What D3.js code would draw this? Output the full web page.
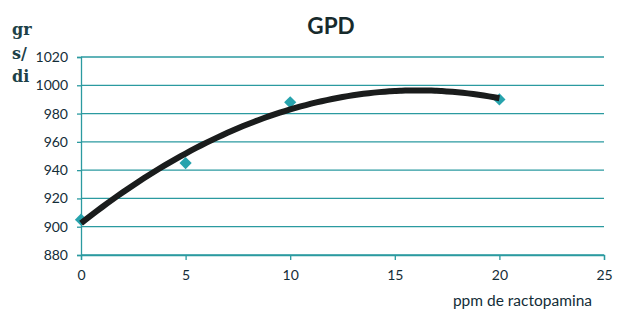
<!DOCTYPE html>
<html>
<head>
<meta charset="utf-8">
<script src="https://cdn.jsdelivr.net/npm/d3@7"></script>
<style>
  body { margin: 0; background: #fff; }
  text { font-family: Lato, "Open Sans", sans-serif; }
</style>
</head>
<body>
<div id="chart"></div>
<script>
// Data
var doses = [0, 5, 10, 20];
var gpd = [905, 945, 988, 990];
var xTicks = [0, 5, 10, 15, 20, 25];
var yTicks = [880, 900, 920, 940, 960, 980, 1000, 1020];
var yLabelLines = ["gr", "s/", "di"];

var margin = { top: 57, right: 21, bottom: 60, left: 81 },
    width = 625 - margin.left - margin.right,
    height = 315 - margin.top - margin.bottom;

var svg = d3.select("#chart")
    .append("svg")
    .attr("width", 625)
    .attr("height", 315);

var g = svg.append("g")
    .attr("transform", "translate(" + margin.left + "," + margin.top + ")");

var x = d3.scaleLinear().domain([0, 25]).range([0, width]);
var y = d3.scaleLinear().domain([880, 1020]).range([height, 0]);

var gridColor = "#2b9aa0";
var textColor = "#132d38";

// Horizontal gridlines
g.selectAll(".grid")
    .data(yTicks)
    .enter()
    .append("line")
    .attr("class", "grid")
    .attr("x1", 0)
    .attr("x2", width)
    .attr("y1", function (d) { return y(d); })
    .attr("y2", function (d) { return y(d); })
    .attr("stroke", gridColor)
    .attr("stroke-width", 1.3);

// Y axis
var yAxis = g.append("g")
    .call(d3.axisLeft(y).tickValues(yTicks).tickFormat(d3.format("d")).tickSize(4).tickPadding(9));
yAxis.select(".domain").attr("stroke", gridColor).attr("stroke-width", 1.3);
yAxis.selectAll(".tick line").attr("stroke", gridColor).attr("stroke-width", 1.3);
yAxis.selectAll("text")
    .attr("fill", textColor)
    .style("font-size", "14px");

// X axis
var xAxis = g.append("g")
    .attr("transform", "translate(0," + height + ")")
    .call(d3.axisBottom(x).tickValues(xTicks).tickSize(5).tickPadding(10));
xAxis.select(".domain").attr("stroke", gridColor).attr("stroke-width", 1.3);
xAxis.selectAll(".tick line").attr("stroke", gridColor).attr("stroke-width", 1.3);
xAxis.selectAll("text")
    .attr("fill", textColor)
    .style("font-size", "14px");

// Polynomial (order 2) trendline, least squares fit of the points
function quadFit(xs, ys) {
    var n = xs.length, s = [0, 0, 0, 0, 0], t = [0, 0, 0];
    for (var i = 0; i < n; i++) {
        for (var k = 0; k < 5; k++) s[k] += Math.pow(xs[i], k);
        for (var j = 0; j < 3; j++) t[j] += ys[i] * Math.pow(xs[i], j);
    }
    var m = [[s[0], s[1], s[2], t[0]], [s[1], s[2], s[3], t[1]], [s[2], s[3], s[4], t[2]]];
    for (var c = 0; c < 3; c++) {
        for (var r = c + 1; r < 3; r++) {
            var f = m[r][c] / m[c][c];
            for (var q = c; q < 4; q++) m[r][q] -= f * m[c][q];
        }
    }
    var coef = [0, 0, 0];
    for (var r2 = 2; r2 >= 0; r2--) {
        var sum = m[r2][3];
        for (var q2 = r2 + 1; q2 < 3; q2++) sum -= m[r2][q2] * coef[q2];
        coef[r2] = sum / m[r2][r2];
    }
    return coef;
}

var coef = quadFit(doses, gpd);
var trendX = d3.range(0, 20.01, 0.25);
var line = d3.line()
    .x(function (d) { return x(d); })
    .y(function (d) { return y(coef[0] + coef[1] * d + coef[2] * d * d); })
    .curve(d3.curveMonotoneX);

// Markers
g.selectAll(".pt")
    .data(doses)
    .enter()
    .append("path")
    .attr("class", "pt")
    .attr("d", d3.symbol().type(d3.symbolDiamond2).size(95))
    .attr("transform", function (d, i) { return "translate(" + x(d) + "," + y(gpd[i]) + ")"; })
    .attr("fill", "#27a3ad");

g.append("path")
    .datum(trendX)
    .attr("d", line)
    .attr("fill", "none")
    .attr("stroke", "#1a1c1c")
    .attr("stroke-width", 6);

// Title
svg.append("text")
    .attr("x", 331)
    .attr("y", 34)
    .attr("text-anchor", "middle")
    .attr("font-weight", "bold")
    .attr("fill", "#172a2c")
    .style("font-size", "22.5px")
    .text("GPD");

// Y label, stacked
svg.selectAll(".ylab")
    .data(yLabelLines)
    .enter()
    .append("text")
    .attr("class", "ylab")
    .attr("x", 12)
    .attr("y", function (d, i) { return 35 + i * 23.5; })
    .attr("font-weight", "bold")
    .attr("fill", "#1d4148")
    .style("font-family", "'DejaVu Serif', 'Liberation Serif', serif")
    .style("font-size", "16px")
    .text(function (d) { return d; });

// X label
svg.append("text")
    .attr("x", 592)
    .attr("y", 306)
    .attr("text-anchor", "end")
    .attr("fill", textColor)
    .style("font-size", "15.5px")
    .text("ppm de ractopamina");
</script>
</body>
</html>
